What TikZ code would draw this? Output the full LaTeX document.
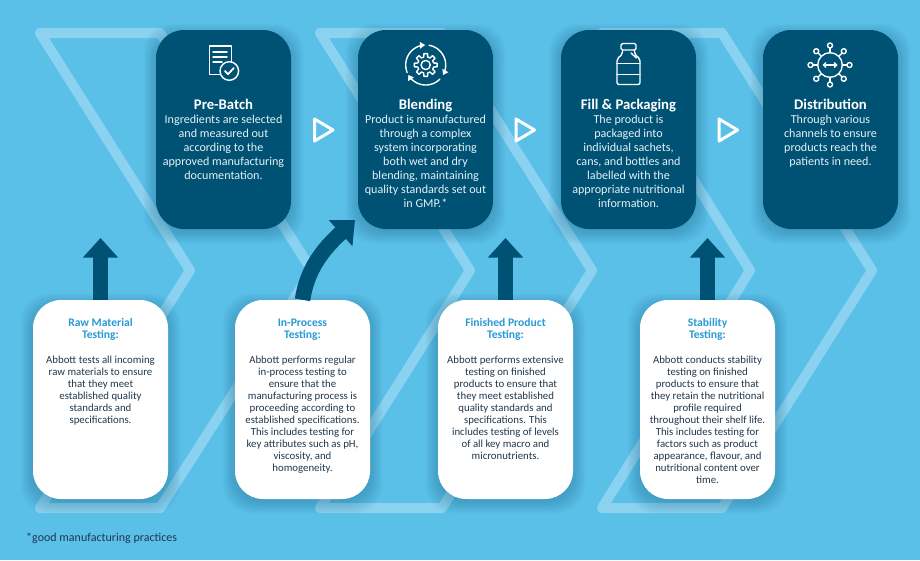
\documentclass[tikz,border=0pt]{standalone}
\usepackage{fontspec}
\setmainfont{Carlito}
\usetikzlibrary{arrows.meta}
\definecolor{bgblue}{HTML}{5BC0E8}
\definecolor{bandblue}{HTML}{8AD2F0}
\definecolor{navy}{HTML}{005274}
\definecolor{headblue}{HTML}{2A9AD6}
\definecolor{bodydark}{HTML}{20384C}
\definecolor{topbody}{HTML}{E4F1F6}
\definecolor{shadowc}{HTML}{0A4A6A}
\newcommand\ShadowAt[2]{%
  \foreach \i in {0,1.5,...,13.5}{%
    \fill[shadowc,opacity=.032,rounded corners=28pt]
      ({#1-67.5-\i+1},{#2-99.5-\i+7}) rectangle ({#1+67.5+\i-1},{#2+99.5+\i+1});
  }%
}
\tikzset{
  x=1pt,y=-1pt,
  band/.style={draw=bandblue,line width=10pt,line join=round},
  topcard/.style={fill=navy,rounded corners=28pt,minimum width=135pt,minimum height=199pt,inner sep=0pt},
  lowcard/.style={fill=white,rounded corners=28pt,minimum width=135pt,minimum height=199pt,inner sep=0pt},
  toptitle/.style={text=white,font=\fontsize{14.7}{14}\selectfont\bfseries,anchor=base,inner sep=0pt},
  topbodytext/.style={text=topbody,font=\fontsize{12.1}{14}\selectfont,align=center,anchor=north,inner sep=0pt},
  lowtitle/.style={text=headblue,font=\fontsize{11.6}{12}\selectfont\bfseries,align=center,anchor=north,inner sep=0pt},
  lowbodytext/.style={text=bodydark,font=\fontsize{10.8}{12}\selectfont,align=center,anchor=north,inner sep=0pt},
  upflow/.style={draw=navy,line width=15.5pt,-{Triangle[width=34pt,length=19.5pt]}},
  nextmark/.style={draw=white,line width=3pt,line join=round},
  icon/.style={draw=white,line width=1.4pt,line join=round,line cap=round},
}
\begin{document}
\begin{tikzpicture}
\useasboundingbox (0,0) rectangle (920,560);
\fill[bgblue] (0,0) rectangle (920,560);
% chevrons
\draw[band] (40,33) -- (160,33) -- (312,270.5) -- (160,508) -- (40,508) -- (190,270.5) -- cycle;
\draw[band] (320,33) -- (442,33) -- (592,270.5) -- (442,508) -- (320,508) -- (470,270.5) -- cycle;
\draw[band] (602,33) -- (722,33) -- (872,270.5) -- (722,508) -- (602,508) -- (750,270.5) -- cycle;
% shadows
\ShadowAt{223.5}{129.5}\ShadowAt{425.5}{129.5}\ShadowAt{628.5}{129.5}\ShadowAt{830.5}{129.5}
\ShadowAt{100.5}{399.5}\ShadowAt{302.5}{399.5}\ShadowAt{505.5}{399.5}\ShadowAt{707.5}{399.5}
% top cards
\node[topcard] (prebatch) at (223.5,129.5) {};
\node[topcard] (blending) at (425.5,129.5) {};
\node[topcard] (fill) at (628.5,129.5) {};
\node[topcard] (distribution) at (830.5,129.5) {};
% low cards
\node[lowcard] (raw) at (100.5,399.5) {};
\node[lowcard] (inproc) at (302.5,399.5) {};
\node[lowcard] (finished) at (505.5,399.5) {};
\node[lowcard] (stability) at (707.5,399.5) {};
% arrows
\coordinate (tipa) at (100.5,238);
\coordinate (tipb) at (355,220);
\coordinate (tipc) at (505.5,238);
\coordinate (tipd) at (707.5,238);
\draw[upflow] (raw.north) -- (tipa);
\draw[upflow] (inproc.north) .. controls (307,270) and (322,250) .. (tipb);
\draw[upflow] (finished.north) -- (tipc);
\draw[upflow] (stability.north) -- (tipd);
% next marks
\draw[nextmark] (314.5,119) -- (333,130) -- (314.5,141) -- cycle;
\draw[nextmark] (516,119) -- (534.5,130) -- (516,141) -- cycle;
\draw[nextmark] (719,119) -- (737.5,130) -- (719,141) -- cycle;
% top text
\node[toptitle] (t1) at (223.5,109) {Pre-Batch};
\node[toptitle] (t2) at (425.5,109) {Blending};
\node[toptitle] (t3) at (628.5,109) {Fill \& Packaging};
\node[toptitle] (t4) at (830.5,109) {Distribution};
\node[topbodytext] (b1) at (223.5,113.2) {\strut Ingredients are selected\\and measured out\\according to the\\approved manufacturing\\documentation.};
\node[topbodytext] (b2) at (425.5,113.2) {\strut Product is manufactured\\through a complex\\system incorporating\\both wet and dry\\blending, maintaining\\quality standards set out\\in GMP.*};
\node[topbodytext] (b3) at (628.5,113.2) {\strut The product is\\packaged into\\individual sachets,\\cans, and bottles and\\labelled with the\\appropriate nutritional\\information.};
\node[topbodytext] (b4) at (830.5,113.2) {\strut Through various\\channels to ensure\\products reach the\\patients in need.};
% low text
\node[lowtitle] (h1) at (100.5,318) {\strut Raw Material\\Testing:};
\node[lowtitle] (h2) at (302.5,318) {\strut In-Process\\Testing:};
\node[lowtitle] (h3) at (505.5,318) {\strut Finished Product\\Testing:};
\node[lowtitle] (h4) at (707.5,318) {\strut Stability\\Testing:};
\node[lowbodytext] (l1) at (100.5,355) {\strut Abbott tests all incoming\\raw materials to ensure\\that they meet\\established quality\\standards and\\specifications.};
\node[lowbodytext] (l2) at (302.5,355) {\strut Abbott performs regular\\in-process testing to\\ensure that the\\manufacturing process is\\proceeding according to\\established specifications.\\This includes testing for\\key attributes such as pH,\\viscosity, and\\homogeneity.};
\node[lowbodytext] (l3) at (505.5,355) {\strut Abbott performs extensive\\testing on finished\\products to ensure that\\they meet established\\quality standards and\\specifications. This\\includes testing of levels\\of all key macro and\\micronutrients.};
\node[lowbodytext] (l4) at (707.5,355) {\strut Abbott conducts stability\\testing on finished\\products to ensure that\\they retain the nutritional\\profile required\\throughout their shelf life.\\This includes testing for\\factors such as product\\appearance, flavour, and\\nutritional content over\\time.};
\node[text=bodydark,font=\fontsize{12}{13}\selectfont,anchor=base west,inner sep=0pt] (foot) at (26,541.5) {*good manufacturing practices};
% icon: document
\draw[icon] (209.5,46) rectangle (231.5,74.5);
\draw[icon] (213,52) -- (227,52) (213,57) -- (227,57) (213,62) -- (222,62);
\draw[icon,fill=navy] (229.3,71) circle[radius=9.3pt];
\draw[icon,line width=1.8pt] (225,71) -- (228,74.2) -- (233.8,68);
% icon: gear and cycle
\begin{scope}[shift={(425.7,65)}]
  \draw[icon] (-14:8.2) \foreach \a in {0,45,...,315}{ -- ({\a-14}:8.2) -- ({\a-9}:11.5) -- ({\a+9}:11.5) -- ({\a+14}:8.2)} -- cycle;
  \draw[icon] (0,0) circle[radius=4.6pt];
  \foreach \p/\q in {158/268,-80/30,45/150}{
    \draw[icon,-{Triangle[width=6.5pt,length=5pt]}] plot[domain=\p:\q,samples=24,smooth] ({20*cos(\x)},{20*sin(\x)});
  }
\end{scope}
% icon: bottle
\draw[icon,rounded corners=1.5pt] (621,43.5) rectangle (636,50);
\draw[icon,rounded corners=2pt] (622.5,50) -- (622.5,54) -- (617,59) -- (617,84.5) -- (640,84.5) -- (640,59) -- (634.5,54) -- (634.5,50);
\draw[icon] (617,63.5) -- (640,63.5) (617,74.5) -- (640,74.5);
\draw[icon] (631,53) -- (636.5,58);
% icon: network
\begin{scope}[shift={(830,65)}]
  \draw[icon] (0,0) circle[radius=12.3pt];
  \foreach \a in {0,45,...,315}{
    \draw[icon] (\a:12.3) -- (\a:17);
    \draw[icon] (\a:19.5) circle[radius=2.5pt];
  }
  \draw[icon,{Straight Barb[length=2.5pt,width=5pt]}-{Straight Barb[length=2.5pt,width=5pt]}] (-7.5,0) -- (7.5,0);
\end{scope}
\end{tikzpicture}
\end{document}
